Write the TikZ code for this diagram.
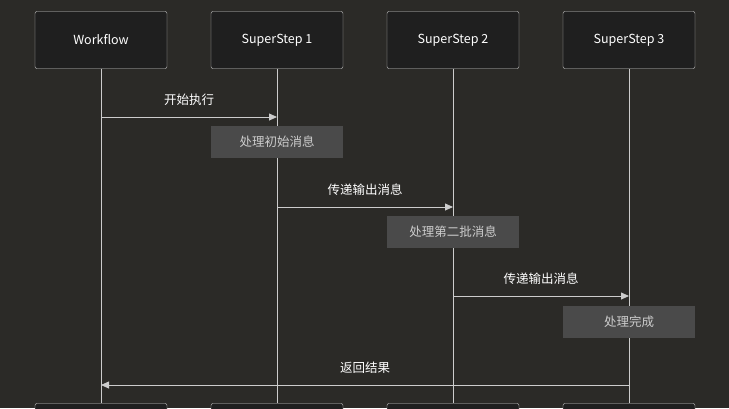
\documentclass[tikz,border=0pt]{standalone}
\usepackage{fontspec}
\setmainfont{Noto Sans CJK SC}
\usetikzlibrary{positioning, arrows.meta}
\definecolor{bgdark}{HTML}{2B2A27}
\definecolor{actorfill}{HTML}{1F1F1F}
\definecolor{linegray}{HTML}{CCCCCC}
\definecolor{notefill}{HTML}{4A4A4A}

\begin{document}
\begin{tikzpicture}[
    x=1pt, y=-1pt,
    actor/.style={rectangle, draw=linegray, fill=actorfill, rounded corners=2pt, minimum width=132pt, minimum height=57pt, font=\fontsize{12.5}{15}\selectfont, text=white},
    note/.style={rectangle, fill=notefill, minimum width=132pt, minimum height=32pt, font=\fontsize{12.5}{15}\selectfont, text=linegray},
    msg/.style={-{Triangle[length=8pt,width=7pt]}, draw=linegray, line width=0.8pt},
    life/.style={draw=linegray, line width=0.8pt},
    lbl/.style={font=\fontsize{12.5}{15}\selectfont, text=white}
]
\fill[bgdark] (0,0) rectangle (729,408);
\useasboundingbox (0,0) rectangle (729,408);

% Actors
\node[actor] (wf) at (101,40) {Workflow};
\node[actor] (s1) at (277,40) {SuperStep 1};
\node[actor] (s2) at (453,40) {SuperStep 2};
\node[actor] (s3) at (629,40) {SuperStep 3};
\node[actor] (wfb) at (101,432) {};
\node[actor] (s1b) at (277,432) {};
\node[actor] (s2b) at (453,432) {};
\node[actor] (s3b) at (629,432) {};

% Lifelines
\draw[life] (wf) -- (wfb);
\draw[life] (s1) -- (s1b);
\draw[life] (s2) -- (s2b);
\draw[life] (s3) -- (s3b);

% Messages
\coordinate (m1a) at (101,117); \coordinate (m1b) at (277,117);
\draw[msg] (m1a) -- node[lbl, above=8pt] {开始执行} (m1b);
\node[note] (n1) at (277,142) {处理初始消息};

\coordinate (m2a) at (277,207); \coordinate (m2b) at (453,207);
\draw[msg] (m2a) -- node[lbl, above=8pt] {传递输出消息} (m2b);
\node[note] (n2) at (453,232) {处理第二批消息};

\coordinate (m3a) at (453,296); \coordinate (m3b) at (629,296);
\draw[msg] (m3a) -- node[lbl, above=8pt] {传递输出消息} (m3b);
\node[note] (n3) at (629,322) {处理完成};

\coordinate (m4a) at (629,385); \coordinate (m4b) at (101,385);
\draw[msg] (m4a) -- node[lbl, above=8pt] {返回结果} (m4b);
\end{tikzpicture}
\end{document}
